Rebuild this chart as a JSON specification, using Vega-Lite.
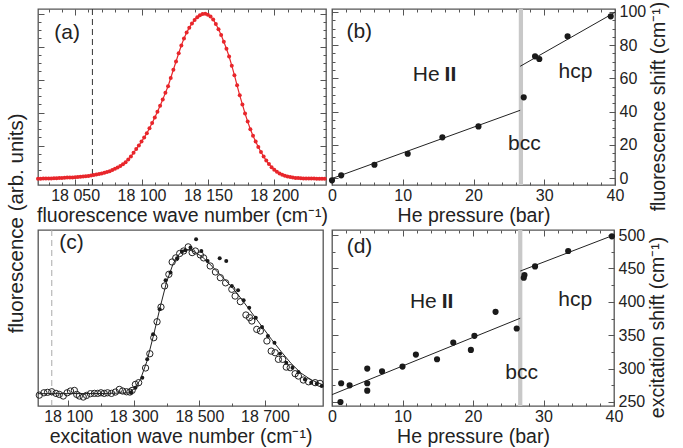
{
 "$schema": "https://vega.github.io/schema/vega-lite/v6.json",
 "padding": {"left": 6, "top": 0, "right": 2, "bottom": 0},
 "title": {"text": "fluorescence (arb. units)", "orient": "left", "anchor": "middle", "fontSize": 20.5, "fontWeight": "normal", "font": "Liberation Sans", "color": "#222", "offset": 6},
 "columns": 2,
 "bounds": "flush",
 "spacing": {"row": 45, "column": 6},
 "config": {
  "view": {"stroke": "#555", "strokeWidth": 1.3},
  "font": "Liberation Sans",
  "axis": {"domain": false, "grid": false, "tickColor": "#555", "tickWidth": 1, "labelFont": "Liberation Sans", "labelFontSize": 16, "labelColor": "#222", "titleFont": "Liberation Sans", "titleFontSize": 19.5, "titleFontWeight": "normal", "titleColor": "#222", "labelOverlap": false, "labelFlush": false},
  "text": {"font": "Liberation Sans", "fontSize": 21, "color": "#222"}
 },
 "datasets": {
  "fa": [
   {"wn":18022,"f":0.000},{"wn":18024,"f":0.000},{"wn":18026,"f":0.001},{"wn":18028,"f":0.001},{"wn":18030,"f":0.002},
   {"wn":18032,"f":0.002},{"wn":18034,"f":0.003},{"wn":18036,"f":0.003},{"wn":18038,"f":0.004},{"wn":18040,"f":0.005},
   {"wn":18042,"f":0.006},{"wn":18044,"f":0.007},{"wn":18046,"f":0.007},{"wn":18048,"f":0.008},{"wn":18050,"f":0.009},
   {"wn":18052,"f":0.010},{"wn":18054,"f":0.012},{"wn":18056,"f":0.013},{"wn":18058,"f":0.015},{"wn":18060,"f":0.017},
   {"wn":18062,"f":0.019},{"wn":18064,"f":0.022},{"wn":18066,"f":0.025},{"wn":18068,"f":0.028},{"wn":18070,"f":0.032},
   {"wn":18072,"f":0.036},{"wn":18074,"f":0.041},{"wn":18076,"f":0.046},{"wn":18078,"f":0.053},{"wn":18080,"f":0.060},
   {"wn":18082,"f":0.068},{"wn":18084,"f":0.077},{"wn":18086,"f":0.088},{"wn":18088,"f":0.100},{"wn":18090,"f":0.117},
   {"wn":18092,"f":0.135},{"wn":18094,"f":0.157},{"wn":18096,"f":0.180},{"wn":18098,"f":0.202},{"wn":18100,"f":0.225},
   {"wn":18102,"f":0.250},{"wn":18104,"f":0.275},{"wn":18106,"f":0.306},{"wn":18108,"f":0.338},{"wn":18110,"f":0.371},
   {"wn":18112,"f":0.405},{"wn":18114,"f":0.442},{"wn":18116,"f":0.480},{"wn":18118,"f":0.520},{"wn":18120,"f":0.560},
   {"wn":18122,"f":0.610},{"wn":18124,"f":0.660},{"wn":18126,"f":0.710},{"wn":18128,"f":0.760},{"wn":18130,"f":0.807},
   {"wn":18132,"f":0.850},{"wn":18134,"f":0.885},{"wn":18136,"f":0.915},{"wn":18138,"f":0.940},{"wn":18140,"f":0.962},
   {"wn":18142,"f":0.978},{"wn":18144,"f":0.990},{"wn":18146,"f":0.998},{"wn":18148,"f":0.999},{"wn":18150,"f":0.993},
   {"wn":18152,"f":0.982},{"wn":18154,"f":0.965},{"wn":18156,"f":0.937},{"wn":18158,"f":0.905},{"wn":18160,"f":0.870},
   {"wn":18162,"f":0.830},{"wn":18164,"f":0.787},{"wn":18166,"f":0.740},{"wn":18168,"f":0.685},{"wn":18170,"f":0.627},
   {"wn":18172,"f":0.566},{"wn":18174,"f":0.505},{"wn":18176,"f":0.450},{"wn":18178,"f":0.395},{"wn":18180,"f":0.346},
   {"wn":18182,"f":0.300},{"wn":18184,"f":0.260},{"wn":18186,"f":0.225},{"wn":18188,"f":0.192},{"wn":18190,"f":0.162},
   {"wn":18192,"f":0.135},{"wn":18194,"f":0.110},{"wn":18196,"f":0.089},{"wn":18198,"f":0.070},{"wn":18200,"f":0.055},
   {"wn":18202,"f":0.042},{"wn":18204,"f":0.032},{"wn":18206,"f":0.024},{"wn":18208,"f":0.018},{"wn":18210,"f":0.013},
   {"wn":18212,"f":0.010},{"wn":18214,"f":0.007},{"wn":18216,"f":0.005},{"wn":18218,"f":0.004},{"wn":18220,"f":0.003},
   {"wn":18222,"f":0.002},{"wn":18224,"f":0.002},{"wn":18226,"f":0.001},{"wn":18228,"f":0.001},{"wn":18230,"f":0.001},
   {"wn":18232,"f":0.000},{"wn":18234,"f":0.000},{"wn":18236,"f":0.000},{"wn":18238,"f":0.000}
  ],
  "ptsb": [
   {"p":0,"s":-1.4},{"p":1.3,"s":1.6},{"p":6.0,"s":8.0},{"p":10.7,"s":14.6},{"p":15.6,"s":24.5},{"p":20.7,"s":31.1},
   {"p":27.1,"s":48.6},{"p":28.7,"s":73.3},{"p":29.3,"s":71.7},{"p":33.3,"s":85.4},{"p":39.4,"s":97.4}
  ],
  "fitb": [
   {"seg":"He II","p":0,"s":-0.3},{"seg":"He II","p":26.6,"s":40.8},
   {"seg":"hcp","p":26.6,"s":67.3},{"seg":"hcp","p":40,"s":99.8}
  ],
  "ptsd": [
   {"p":1.3,"s":278},{"p":1.2,"s":250},{"p":2.5,"s":275},{"p":5,"s":300},{"p":5,"s":278},{"p":5,"s":267},
   {"p":7.1,"s":296},{"p":10,"s":303},{"p":11.9,"s":321},{"p":14.9,"s":314},{"p":17.2,"s":339},{"p":19.7,"s":328},
   {"p":20.2,"s":349},{"p":23.2,"s":385},{"p":26.2,"s":360},{"p":27.2,"s":436},{"p":27.3,"s":440},{"p":28.8,"s":453},
   {"p":33.5,"s":476},{"p":39.7,"s":498}
  ],
  "fitd": [
   {"seg":"He II","p":0,"s":261},{"seg":"He II","p":26.7,"s":375.4},
   {"seg":"hcp","p":26.7,"s":446},{"seg":"hcp","p":40,"s":500}
  ],
  "circ": [
   {"wn":18012,"f":-0.005},{"wn":18026,"f":0.011},{"wn":18037,"f":0.014},{"wn":18050,"f":0.018},{"wn":18063,"f":0.007},
   {"wn":18073,"f":0.000},{"wn":18085,"f":-0.011},{"wn":18097,"f":0.011},{"wn":18107,"f":0.023},{"wn":18119,"f":0.027},
   {"wn":18126,"f":0.000},{"wn":18134,"f":-0.011},{"wn":18146,"f":-0.018},{"wn":18156,"f":-0.007},{"wn":18168,"f":0.005},
   {"wn":18180,"f":0.007},{"wn":18190,"f":0.007},{"wn":18200,"f":0.011},{"wn":18210,"f":0.007},{"wn":18220,"f":0.011},
   {"wn":18232,"f":0.007},{"wn":18244,"f":0.016},{"wn":18256,"f":0.034},{"wn":18266,"f":0.023},{"wn":18278,"f":0.018},
   {"wn":18288,"f":0.016},{"wn":18295,"f":0.027},{"wn":18305,"f":0.068},{"wn":18315,"f":0.080},{"wn":18336,"f":0.180},
   {"wn":18349,"f":0.277},{"wn":18361,"f":0.386},{"wn":18371,"f":0.495},{"wn":18383,"f":0.595},{"wn":18394,"f":0.739},
   {"wn":18407,"f":0.818},{"wn":18417,"f":0.902},{"wn":18428,"f":0.930},{"wn":18440,"f":0.960},{"wn":18452,"f":0.977},
   {"wn":18466,"f":1.005},{"wn":18478,"f":0.966},{"wn":18488,"f":0.977},{"wn":18503,"f":0.950},{"wn":18513,"f":0.930},
   {"wn":18533,"f":0.875},{"wn":18549,"f":0.834},{"wn":18564,"f":0.795},{"wn":18580,"f":0.760},{"wn":18599,"f":0.716},
   {"wn":18609,"f":0.670},{"wn":18625,"f":0.632},{"wn":18642,"f":0.541},{"wn":18653,"f":0.523},{"wn":18660,"f":0.500},
   {"wn":18675,"f":0.443},{"wn":18686,"f":0.432},{"wn":18706,"f":0.364},{"wn":18719,"f":0.295},{"wn":18731,"f":0.284},
   {"wn":18741,"f":0.239},{"wn":18754,"f":0.239},{"wn":18765,"f":0.186},{"wn":18777,"f":0.182},{"wn":18792,"f":0.141},
   {"wn":18802,"f":0.125},{"wn":18817,"f":0.098},{"wn":18833,"f":0.086},{"wn":18853,"f":0.080},{"wn":18868,"f":0.075}
  ],
  "dots": [
   {"wn":18292,"f":0.011},{"wn":18305,"f":0.045},{"wn":18326,"f":0.114},{"wn":18341,"f":0.239},{"wn":18359,"f":0.409},
   {"wn":18379,"f":0.580},{"wn":18397,"f":0.777},{"wn":18412,"f":0.830},{"wn":18432,"f":0.927},{"wn":18447,"f":0.973},
   {"wn":18457,"f":0.982},{"wn":18473,"f":1.000},{"wn":18490,"f":1.057},{"wn":18506,"f":0.977},{"wn":18525,"f":0.909},
   {"wn":18562,"f":0.927},{"wn":18582,"f":0.909},{"wn":18599,"f":0.739},{"wn":18618,"f":0.709},{"wn":18635,"f":0.641},
   {"wn":18652,"f":0.590},{"wn":18672,"f":0.523},{"wn":18691,"f":0.459},{"wn":18709,"f":0.398},{"wn":18729,"f":0.352},
   {"wn":18746,"f":0.277},{"wn":18765,"f":0.216},{"wn":18784,"f":0.182},{"wn":18802,"f":0.152},{"wn":18822,"f":0.102},
   {"wn":18841,"f":0.080},{"wn":18858,"f":0.073},{"wn":18873,"f":0.057}
  ],
  "fitc": [
   {"wn":18008,"f":0.005},{"wn":18100,"f":0.005},{"wn":18200,"f":0.006},{"wn":18280,"f":0.010},{"wn":18300,"f":0.035},
   {"wn":18320,"f":0.100},{"wn":18340,"f":0.225},{"wn":18360,"f":0.400},{"wn":18380,"f":0.590},{"wn":18400,"f":0.765},
   {"wn":18420,"f":0.890},{"wn":18440,"f":0.960},{"wn":18455,"f":0.985},{"wn":18470,"f":0.985},{"wn":18490,"f":0.965},
   {"wn":18510,"f":0.935},{"wn":18540,"f":0.870},{"wn":18570,"f":0.800},{"wn":18600,"f":0.730},{"wn":18630,"f":0.645},
   {"wn":18660,"f":0.555},{"wn":18690,"f":0.465},{"wn":18720,"f":0.375},{"wn":18750,"f":0.290},{"wn":18780,"f":0.210},
   {"wn":18810,"f":0.145},{"wn":18840,"f":0.100},{"wn":18877,"f":0.065}
  ]
 },
 "concat": [
  {
   "width": 288, "height": 176,
   "resolve": {"axis": {"x": "independent", "y": "independent"}},
   "layer": [
    {"data": {"values": [{}]}, "mark": {"type": "rule", "color": "#333", "strokeDash": [6, 4], "strokeWidth": 1},
     "encoding": {"x": {"datum": 18063, "type": "quantitative", "axis": null}}},
    {"data": {"name": "fa"}, "mark": {"type": "line", "color": "#e8262b", "strokeWidth": 1.2},
     "encoding": {
      "x": {"field": "wn", "type": "quantitative", "scale": {"domain": [18022, 18239], "nice": false, "zero": false},
       "axis": {"orient": "bottom", "values": [18030,18040,18050,18060,18070,18080,18090,18100,18110,18120,18130,18140,18150,18160,18170,18180,18190,18200,18210,18220,18230],
        "tickSize": {"condition": {"test": "datum.value % 50 === 0", "value": -6}, "value": -3},
        "labelExpr": "datum.value % 50 === 0 ? '18 ' + substring(format(datum.value, 'd'), 2) : ''",
        "labelPadding": 8, "title": "fluorescence wave number (cm⁻¹)", "titlePadding": 0}},
      "y": {"field": "f", "type": "quantitative", "scale": {"domain": [-0.038, 1.028], "nice": false, "zero": false},
       "axis": {"orient": "left", "values": [0,0.05,0.1,0.15,0.2,0.25,0.3,0.35,0.4,0.45,0.5,0.55,0.6,0.65,0.7,0.75,0.8,0.85,0.9,0.95,1],
        "tickSize": {"condition": {"test": "round(datum.value*100) % 20 === 0", "value": -6}, "value": -3}, "labels": false, "title": null}}}},
    {"data": {"name": "fa"}, "mark": {"type": "point", "filled": true, "color": "#e8262b", "size": 16, "opacity": 1},
     "encoding": {
      "x": {"field": "wn", "type": "quantitative",
       "axis": {"orient": "top", "values": [18030,18040,18050,18060,18070,18080,18090,18100,18110,18120,18130,18140,18150,18160,18170,18180,18190,18200,18210,18220,18230],
        "tickSize": {"condition": {"test": "datum.value % 50 === 0", "value": -6}, "value": -3}, "labels": false, "title": null}},
      "y": {"field": "f", "type": "quantitative",
       "axis": {"orient": "right", "values": [0,0.05,0.1,0.15,0.2,0.25,0.3,0.35,0.4,0.45,0.5,0.55,0.6,0.65,0.7,0.75,0.8,0.85,0.9,0.95,1],
        "tickSize": {"condition": {"test": "round(datum.value*100) % 20 === 0", "value": -6}, "value": -3}, "labels": false, "title": null}}}},
    {"data": {"values": [{}]}, "mark": {"type": "text"},
     "encoding": {"x": {"datum": 18044, "type": "quantitative", "axis": null}, "y": {"datum": 0.88, "type": "quantitative", "axis": null}, "text": {"value": "(a)"}}}
   ]
  },
  {
   "width": 283, "height": 176,
   "resolve": {"axis": {"x": "independent", "y": "independent"}},
   "layer": [
    {"data": {"values": [{}]}, "mark": {"type": "rect", "color": "#c8c8c8"},
     "encoding": {"x": {"datum": 26.4, "type": "quantitative", "scale": {"domain": [0, 40], "nice": false, "zero": false}, "axis": null}, "x2": {"datum": 27.0}}},
    {"data": {"name": "fitb"}, "mark": {"type": "line", "color": "#222", "strokeWidth": 1},
     "encoding": {
      "x": {"field": "p", "type": "quantitative",
       "axis": {"orient": "top", "values": [0,2,4,6,8,10,12,14,16,18,20,22,24,26,28,30,32,34,36,38,40],
        "tickSize": {"condition": {"test": "datum.value % 10 === 0", "value": -6}, "value": -3}, "labels": false, "title": null}},
      "y": {"field": "s", "type": "quantitative", "scale": {"domain": [-4.2, 101.8], "nice": false, "zero": false},
       "axis": {"orient": "left", "values": [0,5,10,15,20,25,30,35,40,45,50,55,60,65,70,75,80,85,90,95,100],
        "tickSize": {"condition": {"test": "datum.value % 20 === 0", "value": -6}, "value": -3}, "labels": false, "title": null}},
      "detail": {"field": "seg"}}},
    {"data": {"name": "ptsb"}, "mark": {"type": "point", "filled": true, "color": "#1a1a1a", "size": 38, "opacity": 1},
     "encoding": {
      "x": {"field": "p", "type": "quantitative",
       "axis": {"orient": "bottom", "values": [0,2,4,6,8,10,12,14,16,18,20,22,24,26,28,30,32,34,36,38,40],
        "tickSize": {"condition": {"test": "datum.value % 10 === 0", "value": -6}, "value": -3},
        "labelExpr": "datum.value % 10 === 0 ? datum.label : ''", "labelPadding": 8, "title": "He pressure (bar)", "titlePadding": 0}},
      "y": {"field": "s", "type": "quantitative",
       "axis": {"orient": "right", "values": [0,5,10,15,20,25,30,35,40,45,50,55,60,65,70,75,80,85,90,95,100],
        "tickSize": {"condition": {"test": "datum.value % 20 === 0", "value": -6}, "value": -3},
        "labelExpr": "datum.value % 20 === 0 ? datum.label : ''", "labelPadding": 10,
        "title": "fluorescence shift (cm⁻¹)", "titleAngle": 270, "titleBaseline": "top", "titlePadding": 4, "titleY": 97}}}},
    {"data": {"values": [{}]}, "mark": {"type": "text"},
     "encoding": {"x": {"datum": 3.85, "type": "quantitative", "axis": null}, "y": {"datum": 87.8, "type": "quantitative", "axis": null}, "text": {"value": "(b)"}}},
    {"data": {"values": [{}]}, "mark": {"type": "text", "align": "right", "dx": -1},
     "encoding": {"x": {"datum": 15.35, "type": "quantitative", "axis": null}, "y": {"datum": 62.2, "type": "quantitative", "axis": null}, "text": {"value": "He"}}},
    {"data": {"values": [{}]}, "mark": {"type": "text", "align": "left", "dx": 4, "fontWeight": "bold"},
     "encoding": {"x": {"datum": 15.35, "type": "quantitative", "axis": null}, "y": {"datum": 62.2, "type": "quantitative", "axis": null}, "text": {"value": "II"}}},
    {"data": {"values": [{}]}, "mark": {"type": "text"},
     "encoding": {"x": {"datum": 34.4, "type": "quantitative", "axis": null}, "y": {"datum": 63.9, "type": "quantitative", "axis": null}, "text": {"value": "hcp"}}},
    {"data": {"values": [{}]}, "mark": {"type": "text"},
     "encoding": {"x": {"datum": 27.2, "type": "quantitative", "axis": null}, "y": {"datum": 20.7, "type": "quantitative", "axis": null}, "text": {"value": "bcc"}}}
   ]
  },
  {
   "width": 285, "height": 176,
   "resolve": {"axis": {"x": "independent", "y": "independent"}},
   "layer": [
    {"data": {"values": [{}]}, "mark": {"type": "rule", "color": "#aaa", "strokeDash": [6, 4], "strokeWidth": 1},
     "encoding": {"x": {"datum": 18050, "type": "quantitative", "axis": null}}},
    {"data": {"name": "fitc"}, "mark": {"type": "line", "color": "#222", "strokeWidth": 1},
     "encoding": {
      "x": {"field": "wn", "type": "quantitative", "scale": {"domain": [18008, 18877], "nice": false, "zero": false},
       "axis": {"orient": "bottom", "values": [18100,18200,18300,18400,18500,18600,18700,18800],
        "tickSize": {"condition": {"test": "(datum.value/100) % 2 === 1", "value": -6}, "value": -3},
        "labelExpr": "(datum.value/100) % 2 === 1 ? '18 ' + substring(format(datum.value, 'd'), 2) : ''",
        "labelPadding": 8, "title": "excitation wave number (cm⁻¹)", "titlePadding": 0}},
      "y": {"field": "f", "type": "quantitative", "scale": {"domain": [-0.079, 1.12], "nice": false, "zero": false}, "axis": null}}},
    {"data": {"name": "circ"}, "mark": {"type": "point", "filled": false, "color": "#222", "size": 40, "strokeWidth": 1, "opacity": 1},
     "encoding": {"x": {"field": "wn", "type": "quantitative", "axis": null}, "y": {"field": "f", "type": "quantitative", "axis": null}}},
    {"data": {"name": "dots"}, "mark": {"type": "point", "filled": true, "color": "#1a1a1a", "size": 16, "opacity": 1},
     "encoding": {"x": {"field": "wn", "type": "quantitative", "axis": null}, "y": {"field": "f", "type": "quantitative", "axis": null}}},
    {"data": {"values": [{}]}, "mark": {"type": "text"},
     "encoding": {"x": {"datum": 18110, "type": "quantitative", "axis": null}, "y": {"datum": 1.029, "type": "quantitative", "axis": null}, "text": {"value": "(c)"}}}
   ]
  },
  {
   "width": 282, "height": 176,
   "resolve": {"axis": {"x": "independent", "y": "independent"}},
   "layer": [
    {"data": {"values": [{}]}, "mark": {"type": "rect", "color": "#c8c8c8"},
     "encoding": {"x": {"datum": 26.4, "type": "quantitative", "scale": {"domain": [0, 40], "nice": false, "zero": false}, "axis": null}, "x2": {"datum": 27.0}}},
    {"data": {"name": "fitd"}, "mark": {"type": "line", "color": "#222", "strokeWidth": 1},
     "encoding": {
      "x": {"field": "p", "type": "quantitative",
       "axis": {"orient": "top", "values": [0,2,4,6,8,10,12,14,16,18,20,22,24,26,28,30,32,34,36,38,40],
        "tickSize": {"condition": {"test": "datum.value % 10 === 0", "value": -6}, "value": -3}, "labels": false, "title": null}},
      "y": {"field": "s", "type": "quantitative", "scale": {"domain": [244, 507.5], "nice": false, "zero": false},
       "axis": {"orient": "left", "values": [250,275,300,325,350,375,400,425,450,475,500],
        "tickSize": {"condition": {"test": "datum.value % 50 === 0", "value": -6}, "value": -3}, "labels": false, "title": null}},
      "detail": {"field": "seg"}}},
    {"data": {"name": "ptsd"}, "mark": {"type": "point", "filled": true, "color": "#1a1a1a", "size": 38, "opacity": 1},
     "encoding": {
      "x": {"field": "p", "type": "quantitative",
       "axis": {"orient": "bottom", "values": [0,2,4,6,8,10,12,14,16,18,20,22,24,26,28,30,32,34,36,38,40],
        "tickSize": {"condition": {"test": "datum.value % 10 === 0", "value": -6}, "value": -3},
        "labelExpr": "datum.value % 10 === 0 ? datum.label : ''", "labelPadding": 8, "title": "He pressure (bar)", "titlePadding": 0}},
      "y": {"field": "s", "type": "quantitative",
       "axis": {"orient": "right", "values": [250,275,300,325,350,375,400,425,450,475,500],
        "tickSize": {"condition": {"test": "datum.value % 50 === 0", "value": -6}, "value": -3},
        "labelExpr": "datum.value % 50 === 0 ? datum.label : ''", "labelPadding": 10,
        "title": "excitation shift (cm⁻¹)", "titleAngle": 270, "titleBaseline": "top", "titlePadding": 4, "titleY": 97}}}},
    {"data": {"values": [{}]}, "mark": {"type": "text"},
     "encoding": {"x": {"datum": 3.9, "type": "quantitative", "axis": null}, "y": {"datum": 482, "type": "quantitative", "axis": null}, "text": {"value": "(d)"}}},
    {"data": {"values": [{}]}, "mark": {"type": "text", "align": "right", "dx": -1},
     "encoding": {"x": {"datum": 15.0, "type": "quantitative", "axis": null}, "y": {"datum": 400, "type": "quantitative", "axis": null}, "text": {"value": "He"}}},
    {"data": {"values": [{}]}, "mark": {"type": "text", "align": "left", "dx": 4, "fontWeight": "bold"},
     "encoding": {"x": {"datum": 15.0, "type": "quantitative", "axis": null}, "y": {"datum": 400, "type": "quantitative", "axis": null}, "text": {"value": "II"}}},
    {"data": {"values": [{}]}, "mark": {"type": "text"},
     "encoding": {"x": {"datum": 34.5, "type": "quantitative", "axis": null}, "y": {"datum": 402.7, "type": "quantitative", "axis": null}, "text": {"value": "hcp"}}},
    {"data": {"values": [{}]}, "mark": {"type": "text"},
     "encoding": {"x": {"datum": 26.9, "type": "quantitative", "axis": null}, "y": {"datum": 293, "type": "quantitative", "axis": null}, "text": {"value": "bcc"}}}
   ]
  }
 ]
}
